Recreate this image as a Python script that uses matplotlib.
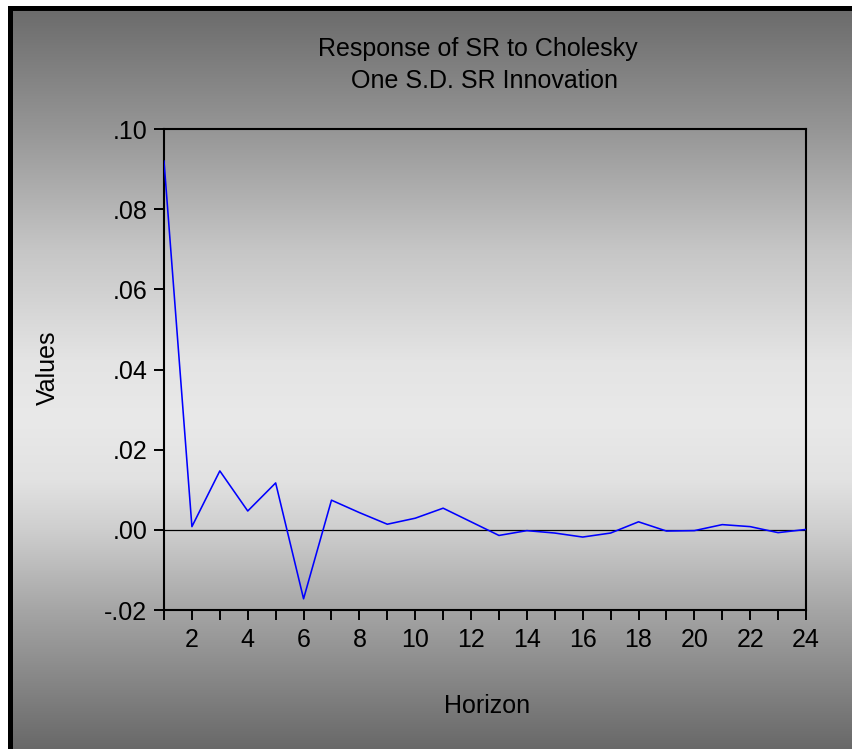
import numpy as np
import matplotlib
matplotlib.use("Agg")
import matplotlib.pyplot as plt
from matplotlib.patches import Rectangle

# Impulse response of SR to a one S.D. SR innovation (Cholesky)
horizon = list(range(1, 25))
response = [0.0920, 0.0008, 0.0147, 0.0047, 0.0117, -0.0172, 0.0074, 0.0043,
            0.0014, 0.0029, 0.0054, 0.0020, -0.0014, -0.0002, -0.0008, -0.0018,
            -0.0008, 0.0020, -0.0003, -0.0002, 0.0013, 0.0008, -0.0007, 0.0001]

y_ticks = [-0.02, 0.00, 0.02, 0.04, 0.06, 0.08, 0.10]
y_tick_labels = ["-.02", ".00", ".02", ".04", ".06", ".08", ".10"]
x_tick_labels = [str(h) if h % 2 == 0 else "" for h in horizon]

title_lines = ["Response of SR to Cholesky", "One S.D. SR Innovation"]
x_label = "Horizon"
y_label = "Values"

plt.rcParams["font.family"] = ["Liberation Sans", "DejaVu Sans"]

W, H = 853, 749
fig = plt.figure(figsize=(W / 100, H / 100), dpi=100)
fig.patch.set_facecolor("white")

# Background layer in pixel coordinates: grey vertical gradient with a dark frame edge
bg = fig.add_axes([0, 0, 1, 1])
bg.axis("off")
rows = np.arange(11, H)
grey = np.interp(rows,
                 [11, 130, 250, 360, 420, 480, 530, 610, 749],
                 [108, 150, 198, 228, 233, 226, 206, 165, 104]) / 255.0
img = np.repeat(grey[:, None, None], 3, axis=2)
bg.imshow(img, extent=(13, W, H, 11), aspect="auto", interpolation="bilinear")
bg.add_patch(Rectangle((8, 6), W - 8, 5, color="black", lw=0))
bg.add_patch(Rectangle((8, 6), 5, H - 6, color="black", lw=0))
bg.set_xlim(0, W)
bg.set_ylim(H, 0)

# Plot area
left, right, top, bottom = 164, 806, 129, 610
ax = fig.add_axes([left / W, 1 - bottom / H, (right - left) / W, (bottom - top) / H])
ax.set_facecolor("none")
ax.plot(horizon, response, color="#0000ff", lw=1.15, zorder=3)
ax.axhline(0, color="black", lw=0.9, zorder=2)
ax.set_xlim(1, 24)
ax.set_ylim(-0.02, 0.10)
ax.set_xticks(horizon)
ax.set_xticklabels(x_tick_labels)
ax.set_yticks(y_ticks)
ax.set_yticklabels(y_tick_labels)
ax.tick_params(direction="out", length=7.5, width=1.4, labelsize=18, pad=5.5,
               colors="black")
ax.tick_params(axis="y", pad=4.5)
for sp in ax.spines.values():
    sp.set_linewidth(1.5)
    sp.set_color("black")

fig.text(478 / W, 1 - 49 / H, title_lines[0], ha="center", va="center", fontsize=18)
fig.text(485 / W, 1 - 81 / H, title_lines[1], ha="center", va="center", fontsize=18)
fig.text(487 / W, 1 - 706 / H, x_label, ha="center", va="center", fontsize=18)
fig.text(48 / W, 1 - 368 / H, y_label, ha="center", va="center", fontsize=18,
         rotation=90)

fig.savefig("out.png", dpi=100)
